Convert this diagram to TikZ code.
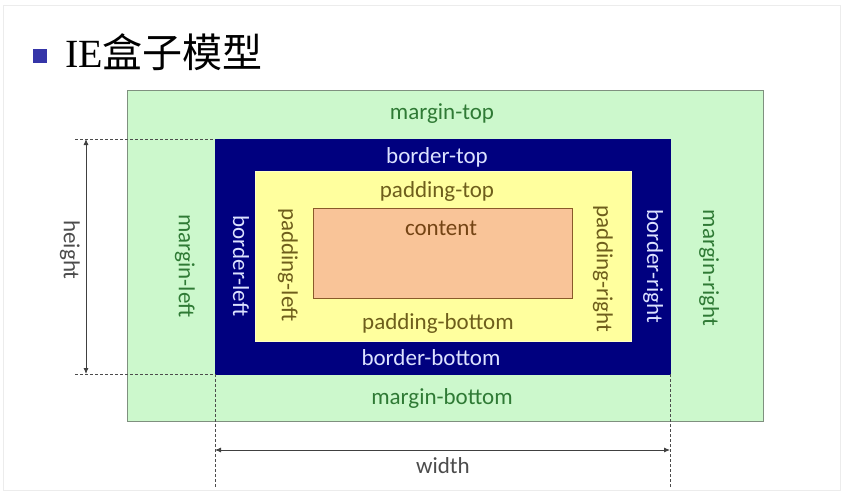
\documentclass[tikz,border=0pt]{standalone}
\usepackage{fontspec}
\setmainfont{Carlito}
\newfontfamily\cjk{Noto Sans CJK SC}
\newfontfamily\titleserif{Liberation Serif}
\usetikzlibrary{arrows.meta}
\definecolor{marginfill}{HTML}{CCF8CC}
\definecolor{marginline}{HTML}{7F907F}
\definecolor{margintext}{HTML}{2F7A35}
\definecolor{borderfill}{HTML}{00007F}
\definecolor{bordertext}{HTML}{DCE2FF}
\definecolor{paddingfill}{HTML}{FFFF9E}
\definecolor{paddingtext}{HTML}{6E5E1C}
\definecolor{contentfill}{HTML}{F9C498}
\definecolor{contentline}{HTML}{8A5A2A}
\definecolor{contenttext}{HTML}{744414}
\definecolor{bulletblue}{HTML}{3535A8}
\begin{document}
\begin{tikzpicture}[x=1pt,y=-1pt,
  layer/.style={draw, inner sep=0pt, outer sep=0pt},
  lbl/.style={font=\fontsize{23}{25}\selectfont, inner sep=0pt},
  guide/.style={densely dashed, gray!60!black, line width=0.8pt},
  dim/.style={{Latex[length=6pt,width=5pt]}-{Latex[length=6pt,width=5pt]}, line width=0.8pt, black!75}]
\useasboundingbox (0,0) rectangle (843,495);
\draw[gray!15] (3,5) rectangle (840,490);
% title
\node[fill=bulletblue, minimum size=14pt, inner sep=0pt] (bullet) at (40,56.5) {};
\node[anchor=west, inner sep=0pt, font=\fontsize{40}{42}\selectfont] (title) at (65,52) {\titleserif IE\cjk 盒子模型};
% nested boxes
\node[layer, draw=marginline, fill=marginfill, minimum width=636pt, minimum height=331pt] (margin) at (445,255.5) {};
\node[layer, draw=borderfill, fill=borderfill, minimum width=455pt, minimum height=235pt] (border) at (442.5,256.5) {};
\node[layer, draw=paddingfill!60!white, fill=paddingfill, minimum width=376pt, minimum height=170pt] (padding) at (443,256) {};
\node[layer, draw=contentline, fill=contentfill, minimum width=259pt, minimum height=90pt] (content) at (442.5,253) {};
% labels
\node[lbl, text=margintext] (mtop) at (442,114) {margin-top};
\node[lbl, text=margintext] (mbottom) at (442,398) {margin-bottom};
\node[lbl, text=margintext, rotate=-90] (mleft) at (185,266) {margin-left};
\node[lbl, text=margintext, rotate=-90] (mright) at (709,268) {margin-right};
\node[lbl, text=bordertext] (btop) at (437,157) {border-top};
\node[lbl, text=bordertext] (bbottom) at (431,358) {border-bottom};
\node[lbl, text=bordertext, rotate=-90] (bleft) at (241,266) {border-left};
\node[lbl, text=bordertext, rotate=-90] (bright) at (653,266) {border-right};
\node[lbl, text=paddingtext] (ptop) at (437,191) {padding-top};
\node[lbl, text=paddingtext] (pbottom) at (438,323) {padding-bottom};
\node[lbl, text=paddingtext, rotate=-90] (pleft) at (288,265) {padding-left};
\node[lbl, text=paddingtext, rotate=-90] (pright) at (603,269) {padding-right};
\node[lbl, text=contenttext] (ctext) at (441,228) {content};
% height
\coordinate (hTopEnd) at (75,139);
\coordinate (hBotEnd) at (75,374);
\draw[guide] (hTopEnd) -- (border.north west);
\draw[guide] (hBotEnd) -- (border.south west);
\coordinate (hTop) at (86,139);
\coordinate (hBot) at (86,374);
\draw[dim] (hTop) -- (hBot);
\node[lbl, text=black!70, rotate=-90] (hlabel) at (70,250) {height};
% width
\coordinate (wLeftEnd) at (215,488);
\coordinate (wRightEnd) at (670,488);
\draw[guide] (border.south west) -- (wLeftEnd);
\draw[guide] (border.south east) -- (wRightEnd);
\coordinate (wLeft) at (215,450);
\coordinate (wRight) at (670,450);
\draw[dim] (wLeft) -- (wRight);
\node[lbl, text=black!70] (wlabel) at (443,466) {width};
\end{tikzpicture}
\end{document}
